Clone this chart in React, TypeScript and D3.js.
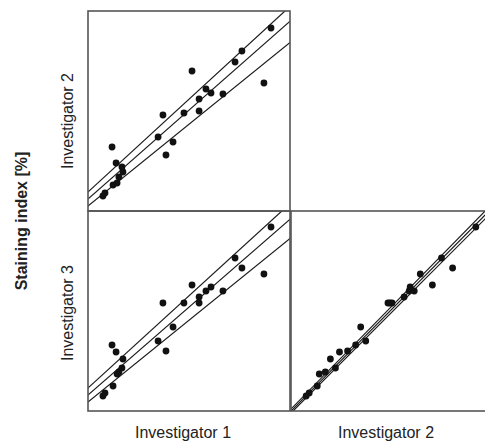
import { useRef, useEffect } from "react";
import * as d3 from "d3";

// staining index (%) per sample
const inv1 = [90.6, 87.1, 76.2, 72.8, 66.8, 60.9, 58.4, 55.0, 55.0, 51.5, 47.5, 42.1, 38.6, 37.1, 34.7, 17.3, 16.8, 15.3, 14.4, 13.9, 12.4, 11.9, 8.4, 7.4];
const inv2 = [91.5, 64.0, 80.0, 74.5, 58.5, 59.0, 61.0, 56.0, 50.0, 70.0, 49.0, 34.5, 28.0, 48.0, 37.0, 19.5, 22.0, 17.0, 14.0, 24.0, 13.0, 32.0, 9.0, 7.5];
const inv3 = [92.0, 68.5, 71.5, 76.5, 60.0, 62.0, 60.0, 57.0, 54.0, 63.0, 54.0, 42.0, 30.0, 54.0, 35.0, 26.0, 21.5, 19.5, 18.5, 29.5, 12.5, 33.0, 9.0, 7.5];

// fitted lines (upper, middle, lower) per panel: y = a + b * x
const fitIntercepts = [
  [9.5, 6.0, 2.5],
  [11.5, 8.0, 4.5],
  [1.0, 0.0, -1.0],
];
const fitSlopes = [
  [0.928, 0.889, 0.818],
  [0.922, 0.879, 0.818],
  [1.03, 1.02, 1.01],
];

const xLabels = ["Investigator 1", "Investigator 2"];
const yLabels = ["Investigator 2", "Investigator 3"];
const yTitle = "Staining index [%]";

const W = 485;
const H = 445;

const App = () => {
  const ref = useRef<SVGSVGElement | null>(null);

  useEffect(() => {
    const svg = d3.select(ref.current);
    svg.selectAll("*").remove();

    const left = 88;
    const top = 11;
    const pw = 202;
    const ph = 200;

    const x = d3.scaleLinear().domain([0, 100]).range([0, pw]);
    const y = d3.scaleLinear().domain([0, 100]).range([ph, 0]);

    const panels = [
      { col: 0, row: 0, xs: inv1, ys: inv2 },
      { col: 0, row: 1, xs: inv1, ys: inv3 },
      { col: 1, row: 1, xs: inv2, ys: inv3 },
    ];

    const line = d3.line<number>().x((d) => x(d[0])).y((d) => y(d[1]));

    panels.forEach((p, k) => {
      const g = svg.append("g")
        .attr("transform", `translate(${left + p.col * (pw + 1)},${top + p.row * ph})`);

      g.append("clipPath").attr("id", "clip" + k)
        .append("rect").attr("width", pw).attr("height", ph);

      const inner = g.append("g").attr("clip-path", `url(#clip${k})`);

      fitIntercepts[k].forEach((a, j) => {
        const b = fitSlopes[k][j];
        inner.append("path")
          .attr("d", line([[-5, a - 5 * b], [105, a + 105 * b]] as any))
          .attr("fill", "none")
          .attr("stroke", "#1a1a1a")
          .attr("stroke-width", 1.2);
      });

      inner.selectAll("circle")
        .data(d3.range(p.xs.length))
        .join("circle")
        .attr("cx", (i) => x(p.xs[i]))
        .attr("cy", (i) => y(p.ys[i]))
        .attr("r", 3.4)
        .attr("fill", "#111");

      g.append("rect")
        .attr("width", pw)
        .attr("height", ph)
        .attr("fill", "none")
        .attr("stroke", "#555")
        .attr("stroke-width", 1.6);
    });

    const font = "Liberation Sans, Arial, sans-serif";

    xLabels.forEach((t, i) => {
      svg.append("text")
        .attr("x", left + i * (pw + 1) + pw / 2 - 6)
        .attr("y", 438)
        .attr("text-anchor", "middle")
        .attr("font-family", font)
        .attr("font-size", 16)
        .attr("fill", "#222")
        .text(t);
    });

    yLabels.forEach((t, i) => {
      svg.append("text")
        .attr("transform", `translate(73,${top + i * ph + ph / 2 + (i === 0 ? 10 : 2)}) rotate(-90)`)
        .attr("text-anchor", "middle")
        .attr("font-family", font)
        .attr("font-size", 16)
        .attr("fill", "#222")
        .text(t);
    });

    svg.append("text")
      .attr("transform", `translate(27,221) rotate(-90)`)
      .attr("text-anchor", "middle")
      .attr("font-family", font)
      .attr("font-size", 16)
      .attr("font-weight", "bold")
      .attr("fill", "#222")
      .text(yTitle);
  }, []);

  return (
    <svg
      ref={ref}
      width={W}
      height={H}
      style={{ position: "absolute", left: 0, top: 0, background: "#fff" }}
    />
  );
};

export default App;
